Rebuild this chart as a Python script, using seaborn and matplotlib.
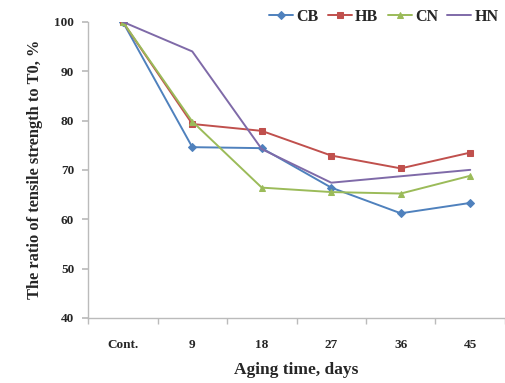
import matplotlib
matplotlib.use("Agg")
import matplotlib.pyplot as plt
import seaborn as sns
import numpy as np
import pandas as pd
from matplotlib.ticker import FixedLocator

categories = ["Cont.", "9", "18", "27", "36", "45"]
cb = [100, 74.6, 74.4, 66.4, 61.2, 63.3]
hb = [100, 79.3, 77.9, 72.9, 70.3, 73.5]
cn = [100, 79.8, 66.4, 65.5, 65.2, 68.8]
hn = [100, 94.0, 74.2, 67.4, 68.7, 70.0]

series_names = ["CB", "HB", "CN", "HN"]
series_values = [cb, hb, cn, hn]
colors = ["#4F81BD", "#C0504D", "#9BBB59", "#7F6AA8"]
markers = ["D", "s", "^", None]
msizes = [4, 5, 5, 0]

sns.set_theme(style="white")
plt.rcParams["font.family"] = ["Liberation Serif", "DejaVu Serif"]
plt.rcParams["font.weight"] = "bold"

fig = plt.figure(figsize=(5.06, 3.83), dpi=100)
ax = fig.add_axes([0.174, 0.170, 0.824, 0.773])

x = np.arange(len(categories))
for name, vals, c, m, ms in zip(series_names, series_values, colors, markers, msizes):
    df = pd.DataFrame({"x": x, "y": vals})
    sns.lineplot(data=df, x="x", y="y", ax=ax, color=c, marker=m, markersize=ms,
                 markeredgecolor=c, linewidth=1.4, label=name)

ax.set_xlim(-0.5, len(categories) - 0.5)
ax.set_ylim(40, 100)
ax.set_yticks(np.arange(40, 101, 10))
ax.set_xticks(x)
ax.set_xticklabels(categories)
ax.xaxis.set_minor_locator(FixedLocator(np.arange(-0.5, len(categories), 1.0)))
ax.tick_params(axis="x", which="major", length=0, pad=15, labelsize=9.5)
ax.tick_params(axis="x", which="minor", length=4, color="#BBBBBB", direction="out", bottom=True)
ax.tick_params(axis="y", length=4, color="#BBBBBB", direction="out", left=True, labelsize=9.5, pad=6)
for lab in ax.get_xticklabels() + ax.get_yticklabels():
    lab.set_fontweight("bold")

for s in ["top", "right"]:
    ax.spines[s].set_visible(False)
for s in ["left", "bottom"]:
    ax.spines[s].set_color("#BBBBBB")
    ax.spines[s].set_linewidth(1.0)

ax.set_xlabel("Aging time, days", fontsize=12.5, fontweight="bold", labelpad=8)
ax.set_ylabel("The ratio of tensile strength to T0, %", fontsize=11.8, fontweight="bold", labelpad=8)

leg = ax.legend(loc="upper right", ncol=4, frameon=False, fontsize=11.5,
                handlelength=1.5, handletextpad=0.2, columnspacing=0.6,
                bbox_to_anchor=(1.0, 1.065), borderaxespad=0)
for t in leg.get_texts():
    t.set_fontweight("bold")

fig.savefig("out.png", dpi=100)
